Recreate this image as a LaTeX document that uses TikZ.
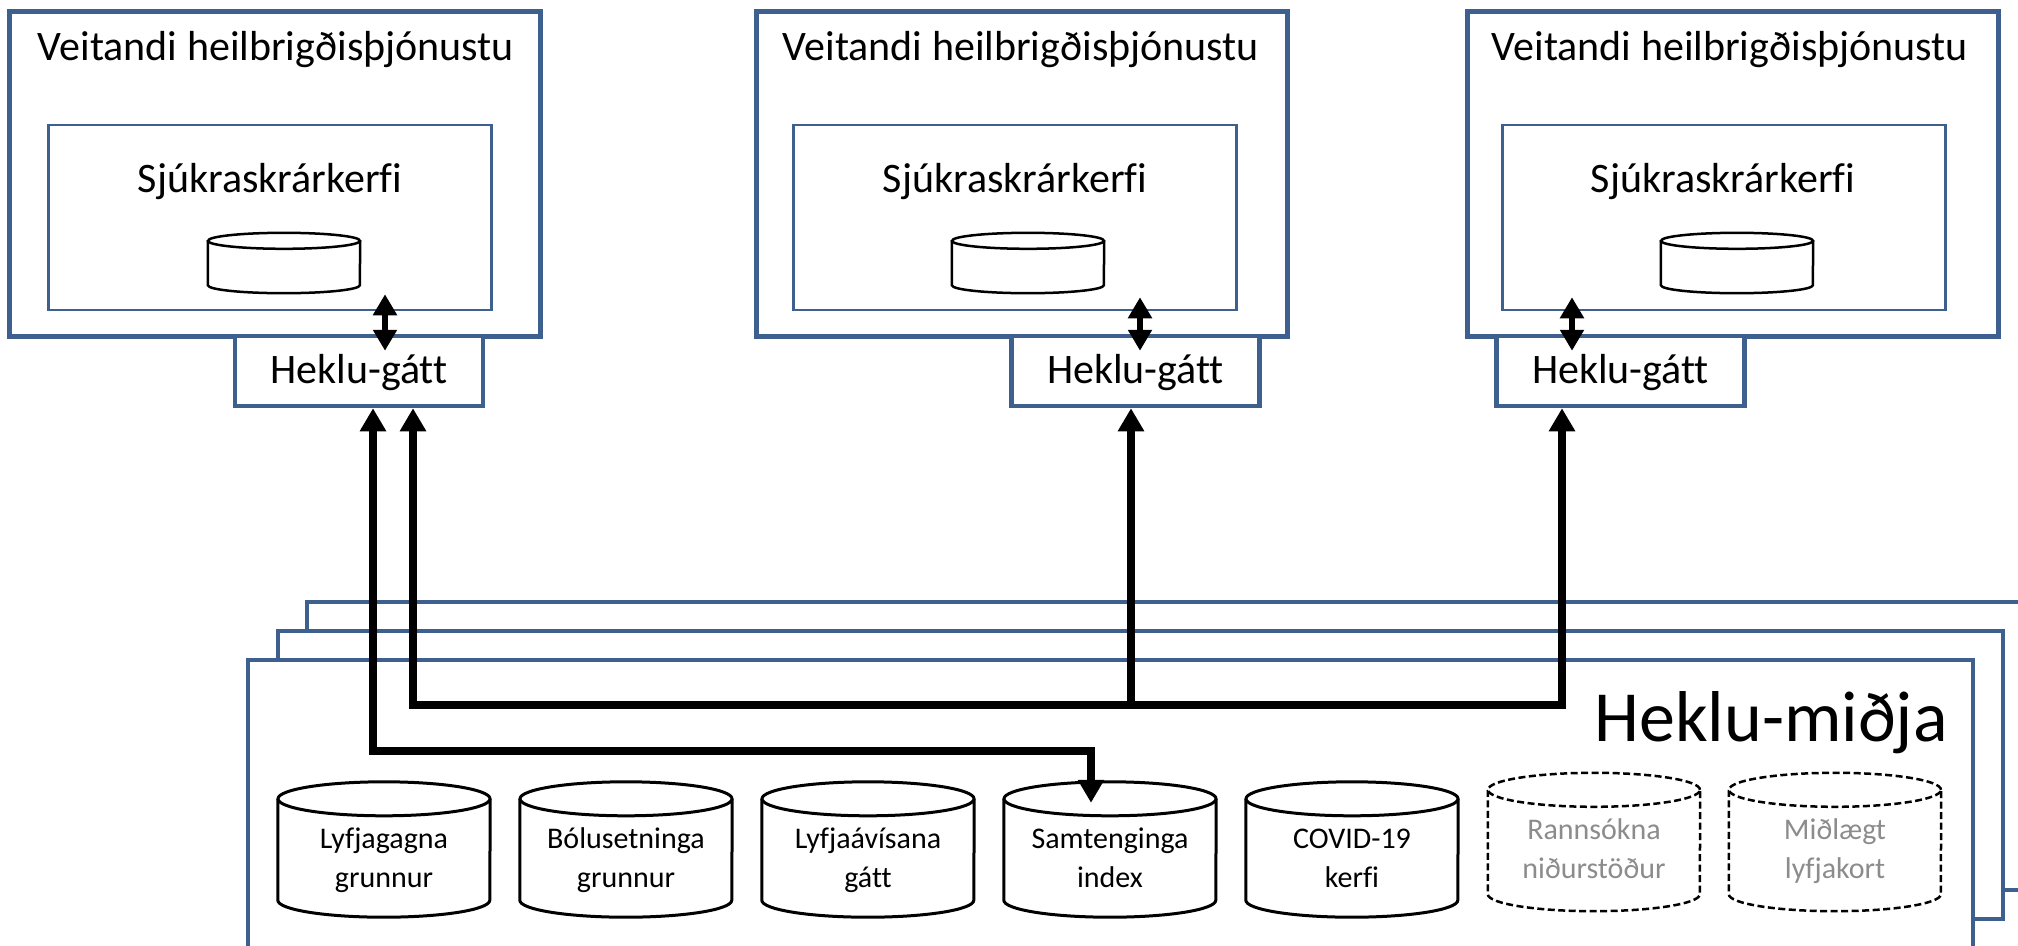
\documentclass[tikz,border=0pt]{standalone}
\usepackage{fontspec}
\setmainfont{Carlito}[Ligatures={NoCommon}]
\usetikzlibrary{arrows.meta}
\definecolor{hblue}{RGB}{61,96,143}
\definecolor{hgray}{RGB}{140,140,140}
\newcommand\twolines[2]{\vtop{\baselineskip=39pt\halign{\hfil##\hfil\cr#1\cr#2\cr}}}
% big cylinder: name, x, ytop, height, line style, text colour, line1, line2
\newcommand\bigcyl[8]{%
  \node[cylbox, minimum height=#4pt] (#1) at (#2,#3+#4/2) {};
  \draw[#5] ([yshift=-17pt]#1.north west) -- ([yshift=17pt]#1.south west)
     arc[start angle=180, end angle=360, x radius=106pt, y radius=17pt]
     -- ([yshift=-17pt]#1.north east);
  \draw[#5] ([yshift=-17pt]#1.north) ellipse [x radius=106pt, y radius=17pt];
  \node[cyltext, text=#6] (#1-t) at ([yshift=-67pt]#1.north) {\twolines{#7}{#8}};
}
% small cylinder inside the record systems
\newcommand\smallcyl[3]{%
  \node[scylbox] (#1) at (#2,#3) {};
  \draw[scylline] ([yshift=-8pt]#1.north west) -- ([yshift=8pt]#1.south west)
     arc[start angle=180, end angle=360, x radius=76pt, y radius=8pt]
     -- ([yshift=-8pt]#1.north east);
  \draw[scylline] ([yshift=-8pt]#1.north) ellipse [x radius=76pt, y radius=8pt];
}
\begin{document}
\begin{tikzpicture}[x=1pt,y=-1pt,
  outerbox/.style={draw=hblue, line width=4.5pt, fill=white, minimum width=531pt, minimum height=325pt, inner sep=0pt},
  innerbox/.style={draw=hblue, line width=2.5pt, minimum width=443pt, minimum height=185pt, inner sep=0pt},
  gatebox/.style={draw=hblue, line width=4.5pt, fill=white, minimum width=248pt, minimum height=70pt, inner sep=0pt, font=\fontsize{42}{50}\selectfont, text height=32pt, text depth=8pt},
  titletext/.style={font=\fontsize{42}{50}\selectfont, anchor=base, inner sep=0pt},
  layerbox/.style={draw=hblue, line width=4.5pt, fill=white, minimum width=1725pt, minimum height=288pt, inner sep=0pt},
  cylbox/.style={minimum width=212pt, inner sep=0pt},
  scylbox/.style={minimum width=152pt, minimum height=60pt, inner sep=0pt},
  scylline/.style={draw=black, line width=2.5pt, fill=white},
  cylline/.style={draw=black, line width=3pt, fill=white},
  cyldash/.style={draw=black, line width=2.5pt, dash pattern=on 7pt off 3.5pt, fill=white},
  cyltext/.style={font=\fontsize{30}{39}\selectfont, anchor=base, inner sep=0pt},
  conn/.style={line width=8pt, draw=black},
  bigtip/.tip={Triangle[width=25pt,length=23pt]},
  dblconn/.style={line width=6pt, draw=black, {Triangle[width=23pt,length=21pt]}-{Triangle[width=23pt,length=21pt]}},
]
\path[use as bounding box] (0,0) rectangle (2018,945);
\clip (0,0) rectangle (2018,945);

% ---- Heklu-midja stacked layers ----
\node[layerbox] (l3) at (1169.5,746) {};
\node[layerbox] (l2) at (1140.5,775) {};
\node[layerbox] (l1) at (1110.5,804) {};
\node[font=\fontsize{72}{80}\selectfont, anchor=base, inner sep=0pt] (midja) at (1771,741) {Heklu-miðja};

% ---- databases ----
\bigcyl{c1}{384}{782}{135}{cylline}{black}{Lyfjagagna}{grunnur}
\bigcyl{c2}{626}{782}{135}{cylline}{black}{Bólusetninga}{grunnur}
\bigcyl{c3}{868}{782}{135}{cylline}{black}{Lyfjaávísana}{gátt}
\bigcyl{c4}{1110}{782}{135}{cylline}{black}{Samtenginga}{index}
\bigcyl{c5}{1352}{782}{135}{cylline}{black}{COVID-19}{kerfi}
\bigcyl{c6}{1594}{773}{138}{cyldash}{hgray}{Rannsókna}{niðurstöður}
\bigcyl{c7}{1835}{773}{138}{cyldash}{hgray}{Miðlægt}{lyfjakort}

% ---- providers ----
\node[outerbox] (o1) at (275,174) {};
\node[outerbox] (o2) at (1022,174) {};
\node[outerbox] (o3) at (1733,174) {};
\node[titletext] (t1) at (276,60) {Veitandi heilbrigðisþjónustu};
\node[titletext] (t2) at (1021,60) {Veitandi heilbrigðisþjónustu};
\node[titletext] (t3) at (1730,60) {Veitandi heilbrigðisþjónustu};
\node[innerbox] (in1) at (270,217.5) {};
\node[innerbox] (in2) at (1015,217.5) {};
\node[innerbox] (in3) at (1724,217.5) {};
\node[titletext] (s1) at (270,192) {Sjúkraskrárkerfi};
\node[titletext] (s2) at (1015,192) {Sjúkraskrárkerfi};
\node[titletext] (s3) at (1723,192) {Sjúkraskrárkerfi};
\smallcyl{db1}{284}{263}
\smallcyl{db2}{1028}{263}
\smallcyl{db3}{1737}{263}
\node[gatebox] (hg1) at (359,371) {Heklu-gátt};
\node[gatebox] (hg2) at (1135.5,371) {Heklu-gátt};
\node[gatebox] (hg3) at (1620.5,371) {Heklu-gátt};

% ---- double arrows between record system and gateway ----
\coordinate (d1) at ([xshift=26pt,yshift=-17pt]hg1.north);
\coordinate (u1) at ([yshift=17pt]in1.south);
\draw[dblconn] (d1) -- (d1 |- u1);
\coordinate (d2) at ([xshift=4.5pt,yshift=-17pt]hg2.north);
\coordinate (u2) at ([yshift=14pt]in2.south);
\draw[dblconn] (d2) -- (d2 |- u2);
\coordinate (d3) at ([xshift=-48.5pt,yshift=-17pt]hg3.north);
\coordinate (u3) at ([yshift=14pt]in3.south);
\draw[dblconn] (d3) -- (d3 |- u3);

% ---- connectors to Heklu-midja ----
\coordinate (busA) at (0,751);
\coordinate (busB) at (0,705);
\coordinate (a1) at ([xshift=14pt]hg1.south);
\coordinate (a2) at ([xshift=-19pt,yshift=-21pt]c4.north);
\draw[conn, bigtip-bigtip] (a1) -- (a1 |- busA) -- (a2 |- busA) -- (a2);
\coordinate (b1) at ([xshift=54pt]hg1.south);
\coordinate (b2) at ([xshift=-4.5pt]hg2.south);
\coordinate (b3) at ([xshift=-58.5pt]hg3.south);
\draw[conn, bigtip-bigtip] (b1) -- (b1 |- busB) -- (b3 |- busB) -- (b3);
\draw[conn, -bigtip] (b2 |- busB) -- (b2);
\end{tikzpicture}
\end{document}
